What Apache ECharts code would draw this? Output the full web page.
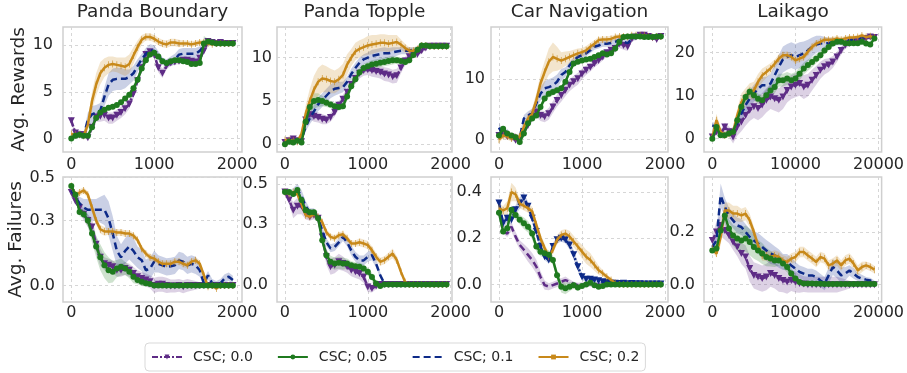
<!DOCTYPE html>
<html><head><meta charset="utf-8">
<script src="https://cdn.jsdelivr.net/npm/echarts@6/dist/echarts.min.js"></script>
<style>html,body{margin:0;padding:0;background:#fff}#c{width:907px;height:373px}</style>
</head><body><div id="c"></div>
<script>
// ---------- steps ----------
const stepsShort=[0,50,100,150,200,250,300,350,400,450,500,550,600,650,700,750,800,850,900,950,1000,1050,1100,1150,1200,1250,1300,1350,1400,1450,1500,1550,1600,1650,1700,1750,1800,1850,1900,1950];
const stepsLong=[0,500,1000,1500,2000,2500,3000,3500,4000,4500,5000,5500,6000,6500,7000,7500,8000,8500,9000,9500,10000,10500,11000,11500,12000,12500,13000,13500,14000,14500,15000,15500,16000,16500,17000,17500,18000,18500,19000,19500];
const panelTitles=['Panda Boundary','Panda Topple','Car Navigation','Laikago'];
const rowNames=['Avg. Rewards','Avg. Failures'];
const seriesNames=['CSC; 0.0','CSC; 0.05','CSC; 0.1','CSC; 0.2'];
const xTicksShort=[0,1000,2000];
const xTicksLong=[0,10000,20000];
const yTicksRewards=[[0,5,10],[0,5,10],[0,10],[0,10,20]];
const yTicksFailures=[[0,0.3,0.5],[0,0.3,0.5],[0,0.2,0.4],[0,0.2]];

// ---------- Panda Boundary, rewards ----------
const rewBoundary00=[1.9,0.6,0.4,0.4,0.1,1.2,2.3,2.4,2.5,2.2,2.2,2.5,2.8,3.2,3.7,4.8,6.2,7.6,9.0,9.3,9.0,7.6,7.0,7.8,8.1,8.2,8.3,8.4,8.4,8.3,8.2,8.6,9.4,10.4,10.3,10.2,10.3,10.2,10.2,10.2];
const rewBoundary00Sd=[0.3,0.3,0.3,0.3,0.3,0.4,0.5,0.6,0.6,0.6,0.6,0.6,0.6,0.6,0.5,0.5,0.4,0.3,0.3,0.3,0.4,0.5,0.5,0.4,0.3,0.3,0.3,0.3,0.3,0.3,0.3,0.3,0.3,0.3,0.2,0.2,0.2,0.2,0.2,0.2];
const rewBoundary05=[0.0,0.3,0.4,0.3,0.3,1.2,2.2,2.8,3.1,3.3,3.4,3.6,3.9,4.3,4.7,5.4,6.3,7.5,8.4,9.0,9.2,8.8,8.3,8.1,8.3,8.4,8.4,8.3,8.2,8.0,8.0,8.1,10.2,10.4,10.3,10.2,10.2,10.2,10.2,10.2];
const rewBoundary05Sd=[0.3,0.3,0.2,0.2,0.2,0.2,0.2,0.2,0.2,0.2,0.2,0.2,0.2,0.2,0.3,0.4,0.4,0.4,0.3,0.3,0.3,0.3,0.3,0.2,0.2,0.2,0.2,0.2,0.2,0.2,0.2,0.2,0.8,0.3,0.2,0.2,0.2,0.2,0.2,0.2];
const rewBoundary10=[0.1,0.3,0.5,0.3,2.0,2.6,2.8,3.0,4.5,5.8,6.3,6.4,6.4,6.4,6.6,7.0,7.8,8.5,9.1,9.5,9.4,8.9,8.3,8.1,8.3,8.5,9.0,9.1,9.1,9.1,9.1,9.4,9.9,10.4,10.2,10.2,10.3,10.2,10.2,10.2];
const rewBoundary10Sd=[0.3,0.3,0.4,0.4,0.8,0.9,0.8,0.8,1.0,1.2,1.2,1.2,1.2,1.0,0.8,0.8,0.7,0.6,0.6,0.6,0.6,0.5,0.4,0.4,0.5,0.6,0.6,0.6,0.6,0.6,0.6,0.5,0.4,0.3,0.2,0.2,0.3,0.2,0.2,0.2];
const rewBoundary20=[0.5,0.4,0.4,0.3,1.5,4.0,5.8,7.0,7.6,7.9,8.0,7.9,7.8,7.7,8.0,8.9,9.8,10.6,10.9,10.9,10.7,10.4,10.2,10.1,10.3,10.3,10.2,10.2,10.2,10.1,10.2,10.3,10.3,10.2,10.1,10.2,10.2,10.2,10.2,10.2];
const rewBoundary20Sd=[0.2,0.2,0.2,0.2,0.6,1.0,1.2,1.2,1.0,0.9,0.8,0.8,0.9,1.0,1.0,0.9,0.7,0.5,0.4,0.4,0.4,0.4,0.4,0.4,0.4,0.4,0.4,0.3,0.3,0.3,0.3,0.3,0.3,0.2,0.2,0.2,0.2,0.2,0.2,0.2];

// ---------- Panda Topple, rewards ----------
const rewTopple00=[0.2,0.4,0.6,0.4,0.3,2.8,3.4,3.2,3.1,2.9,2.8,3.1,3.7,4.5,5.2,6.0,6.9,7.6,8.2,8.5,8.6,8.5,8.4,8.3,8.1,8.0,7.8,7.9,8.8,9.6,10.1,10.3,10.4,10.8,11.1,11.3,11.3,11.3,11.3,11.3];
const rewTopple00Sd=[0.2,0.2,0.2,0.2,0.2,0.4,0.5,0.6,0.6,0.6,0.5,0.5,0.5,0.5,0.5,0.5,0.6,0.6,0.6,0.6,0.6,0.7,0.7,0.7,0.8,0.8,0.8,0.8,0.6,0.5,0.4,0.3,0.3,0.3,0.2,0.2,0.2,0.2,0.2,0.2];
const rewTopple05=[0.0,0.3,0.2,0.4,0.2,2.6,4.3,5.0,5.1,5.0,4.8,4.6,4.4,4.3,4.4,5.5,6.7,7.5,8.3,8.8,9.0,9.2,9.3,9.4,9.5,9.6,9.7,9.7,9.6,9.5,9.7,10.3,10.9,11.4,11.4,11.3,11.3,11.3,11.3,11.3];
const rewTopple05Sd=[0.2,0.2,0.2,0.2,0.2,0.5,0.8,0.9,0.8,0.6,0.5,0.4,0.4,0.4,0.4,0.5,0.5,0.5,0.5,0.5,0.5,0.5,0.5,0.5,0.5,0.5,0.5,0.4,0.4,0.4,0.4,0.3,0.3,0.2,0.2,0.2,0.2,0.2,0.2,0.2];
const rewTopple10=[0.2,0.5,0.6,0.5,0.6,2.0,3.0,3.8,4.6,5.1,5.6,6.1,6.4,6.5,6.6,7.2,8.1,8.8,9.4,9.8,10.0,10.2,10.3,10.4,10.5,10.5,10.6,10.7,10.8,10.8,10.8,10.9,11.0,11.2,11.3,11.3,11.3,11.3,11.3,11.3];
const rewTopple10Sd=[0.2,0.2,0.2,0.2,0.3,0.5,0.7,0.8,0.8,0.8,0.8,0.8,0.8,0.7,0.6,0.6,0.6,0.6,0.6,0.6,0.6,0.7,0.7,0.7,0.7,0.6,0.6,0.5,0.4,0.4,0.4,0.3,0.3,0.3,0.2,0.2,0.2,0.2,0.2,0.2];
const rewTopple20=[0.5,0.5,0.4,0.3,1.2,3.5,5.0,6.3,7.2,7.6,7.5,7.3,7.2,7.5,8.0,9.2,10.0,10.7,11.0,11.2,11.4,11.5,11.6,11.7,11.7,11.6,11.7,11.8,11.5,11.1,10.8,10.8,11.0,11.4,11.4,11.3,11.3,11.3,11.3,11.3];
const rewTopple20Sd=[0.2,0.2,0.2,0.2,0.5,1.0,1.4,1.6,1.6,1.6,1.5,1.4,1.3,1.3,1.3,1.2,1.0,1.0,1.0,1.0,1.1,1.1,1.0,1.0,1.0,1.0,0.9,0.8,0.6,0.5,0.4,0.4,0.3,0.3,0.2,0.2,0.2,0.2,0.2,0.2];

// ---------- Car Navigation, rewards ----------
const rewCar00=[0.7,1.0,0.5,0.4,-0.1,0.0,1.3,2.4,3.8,4.6,4.0,3.8,4.3,5.4,6.5,7.3,8.2,9.0,9.6,10.1,10.9,11.5,12.0,12.6,13.1,13.7,14.4,14.8,15.1,15.9,15.6,15.4,16.7,17.0,17.3,17.3,17.1,16.9,16.6,17.1];
const rewCar00Sd=[0.5,0.5,0.4,0.4,0.4,0.4,0.5,0.6,0.7,0.8,0.9,0.9,1.0,1.0,1.0,1.0,1.0,1.0,1.0,1.0,0.9,0.8,0.7,0.6,0.6,0.6,0.6,0.6,0.7,0.7,0.7,0.7,0.5,0.4,0.3,0.3,0.3,0.3,0.3,0.3];
const rewCar05=[0.7,1.8,1.0,0.7,0.4,-0.4,1.0,2.7,3.5,4.0,5.4,6.8,7.6,7.9,8.2,8.5,9.6,11.2,12.6,12.9,13.1,13.3,13.4,13.7,14.0,14.3,14.1,14.3,15.1,16.2,17.0,17.1,17.1,17.1,17.1,17.0,17.0,17.0,17.1,17.1];
const rewCar05Sd=[0.4,0.5,0.4,0.4,0.4,0.6,0.6,0.5,0.4,0.4,0.5,0.6,0.6,0.6,0.5,0.5,0.5,0.5,0.4,0.4,0.4,0.4,0.4,0.4,0.4,0.4,0.4,0.4,0.4,0.4,0.4,0.3,0.3,0.3,0.3,0.3,0.3,0.3,0.3,0.3];
const rewCar10=[2.0,0.7,1.3,0.4,0.6,0.3,3.5,4.0,4.3,6.0,7.6,8.5,8.7,9.0,9.6,10.7,11.2,12.3,13.1,13.7,14.0,14.3,14.8,15.4,15.6,15.9,15.9,16.0,16.2,16.6,16.2,16.0,16.7,17.0,17.1,17.1,17.1,17.1,17.1,17.1];
const rewCar10Sd=[0.8,0.5,0.5,0.4,0.4,0.4,0.6,0.7,0.8,1.0,1.1,1.2,1.3,1.3,1.2,1.0,0.8,0.6,0.5,0.5,0.5,0.5,0.5,0.5,0.5,0.5,0.5,0.5,0.5,0.5,0.5,0.5,0.4,0.4,0.3,0.3,0.3,0.3,0.3,0.3];
const rewCar20=[0.0,0.7,0.5,0.2,0.4,0.5,2.1,3.5,4.3,6.5,9.3,11.2,12.9,13.7,13.4,13.1,13.4,13.7,14.0,14.3,14.5,14.8,15.4,15.9,16.5,16.6,16.6,16.7,17.0,17.1,17.1,17.0,17.3,17.3,17.3,17.3,17.1,17.0,17.1,17.1];
const rewCar20Sd=[0.5,0.5,0.5,0.5,0.5,0.5,0.6,0.8,1.0,1.2,1.5,1.8,2.2,2.4,2.0,1.4,1.2,1.0,0.9,0.8,0.7,0.7,0.6,0.6,0.5,0.5,0.5,0.5,0.4,0.4,0.4,0.4,0.4,0.4,0.3,0.3,0.3,0.3,0.3,0.3];

// ---------- Laikago, rewards ----------
const rewLaikago00=[0.4,1.6,1.2,2.7,1.6,0.4,2.7,3.9,5.4,6.6,7.4,7.0,7.8,8.9,9.7,9.3,8.9,9.7,11.2,12.0,12.4,12.8,12.0,12.4,13.6,14.7,15.9,16.7,17.1,17.8,19.0,20.5,21.7,22.2,22.5,22.5,22.7,23.3,23.6,23.5];
const rewLaikago00Sd=[0.5,0.8,0.8,1.0,1.2,1.5,2.0,2.2,2.4,2.5,2.6,2.7,2.8,2.8,2.8,2.8,2.8,2.8,2.8,2.8,2.8,2.8,2.8,2.6,2.4,2.2,2.0,1.8,1.6,1.4,1.2,1.0,0.8,0.7,0.6,0.6,0.5,0.5,0.5,0.5];
const rewLaikago05=[0.0,2.7,0.8,0.8,1.2,1.6,4.3,7.4,9.7,10.9,10.1,9.3,8.9,10.1,11.2,12.0,13.6,13.6,14.0,13.6,14.0,15.1,16.3,17.1,17.8,18.6,19.4,20.5,21.3,22.1,22.5,22.5,22.2,22.2,22.2,22.2,22.5,22.1,21.9,23.3];
const rewLaikago05Sd=[0.5,0.8,0.6,0.6,0.6,0.8,1.0,1.2,1.2,1.2,1.2,1.2,1.2,1.3,1.5,1.5,1.5,1.5,1.5,1.5,1.5,1.5,1.4,1.3,1.2,1.1,1.0,0.9,0.8,0.7,0.6,0.6,0.6,0.6,0.5,0.5,0.5,0.5,0.5,0.5];
const rewLaikago10=[3.1,2.7,1.2,0.8,1.6,1.9,3.5,5.8,7.8,9.3,10.5,11.6,12.4,12.4,12.8,14.7,16.7,18.4,19.0,19.4,19.0,19.4,19.8,20.5,21.3,21.9,22.1,22.2,22.2,22.5,22.5,22.5,22.9,22.9,23.0,23.3,23.5,23.6,23.8,23.6];
const rewLaikago10Sd=[0.8,0.8,0.6,0.5,0.6,0.8,1.2,1.8,2.0,2.0,2.0,2.0,2.0,2.0,2.2,2.5,2.8,3.0,3.0,3.0,3.0,3.0,2.8,2.5,2.2,2.0,1.8,1.5,1.2,1.0,0.8,0.8,0.7,0.6,0.6,0.6,0.5,0.5,0.5,0.5];
const rewLaikago20=[0.3,4.3,1.6,0.8,1.2,1.6,5.4,8.5,9.7,10.9,11.2,13.2,14.7,15.5,16.3,17.4,18.6,19.4,19.4,19.0,18.2,18.6,19.0,20.2,21.3,22.1,22.5,23.0,23.0,23.0,23.3,23.0,23.3,23.5,23.5,23.6,24.0,23.6,23.8,23.5];
const rewLaikago20Sd=[0.5,1.5,1.0,0.8,0.8,1.0,1.5,2.0,2.0,2.0,2.0,1.8,1.6,1.4,1.2,1.0,1.0,0.8,0.8,0.8,0.8,0.8,0.8,0.8,0.8,0.7,0.7,0.6,0.6,0.6,0.6,0.6,0.6,0.5,0.5,0.5,0.5,0.5,0.5,0.5];

// ---------- Panda Boundary, failures ----------
const failBoundary00=[0.43,0.39,0.36,0.33,0.30,0.27,0.19,0.13,0.10,0.093,0.086,0.07,0.07,0.078,0.07,0.055,0.04,0.032,0.025,0.017,0.0,0.005,0.005,0.0,-0.003,-0.003,0.0,-0.006,0.0,0.0,0.0,0.0,0.0,0.0,0.0,0.0,0.0,0.0,0.0,0.0];
const failBoundary00Sd=[0.01,0.01,0.02,0.03,0.03,0.04,0.04,0.04,0.03,0.03,0.03,0.03,0.03,0.03,0.03,0.03,0.03,0.03,0.03,0.03,0.035,0.035,0.035,0.035,0.03,0.03,0.03,0.03,0.03,0.025,0.02,0.015,0.01,0.01,0.01,0.01,0.01,0.01,0.01,0.01];
const failBoundary05=[0.46,0.42,0.34,0.33,0.30,0.24,0.18,0.13,0.093,0.07,0.063,0.078,0.086,0.078,0.063,0.04,0.025,0.017,0.01,0.006,0.0,0.0,0.0,0.0,0.0,0.0,0.0,0.0,0.0,0.0,0.0,0.0,0.0,0.0,0.0,0.0,0.0,0.0,0.0,0.0];
const failBoundary05Sd=[0.01,0.02,0.02,0.02,0.03,0.04,0.05,0.06,0.06,0.06,0.05,0.04,0.04,0.03,0.03,0.03,0.02,0.02,0.015,0.01,0.01,0.01,0.01,0.01,0.01,0.01,0.01,0.01,0.01,0.01,0.01,0.01,0.01,0.01,0.01,0.01,0.01,0.01,0.01,0.01];
const failBoundary10=[0.44,0.41,0.38,0.36,0.35,0.35,0.35,0.35,0.35,0.31,0.24,0.16,0.13,0.16,0.18,0.16,0.13,0.116,0.07,0.078,0.11,0.10,0.093,0.086,0.088,0.093,0.116,0.11,0.093,0.10,0.093,0.07,0.01,0.047,0.01,0.0,0.01,0.032,0.04,0.025];
const failBoundary10Sd=[0.01,0.02,0.03,0.04,0.05,0.05,0.05,0.06,0.07,0.08,0.08,0.07,0.06,0.06,0.06,0.06,0.05,0.05,0.05,0.05,0.05,0.04,0.04,0.04,0.04,0.04,0.04,0.04,0.04,0.04,0.04,0.03,0.02,0.02,0.02,0.02,0.02,0.02,0.02,0.02];
const failBoundary20=[0.46,0.42,0.43,0.44,0.42,0.36,0.30,0.26,0.25,0.25,0.25,0.245,0.245,0.24,0.24,0.23,0.21,0.17,0.147,0.13,0.124,0.11,0.10,0.10,0.10,0.11,0.11,0.10,0.093,0.11,0.116,0.10,0.047,-0.006,0.0,-0.014,0.0,0.0,0.0,0.0];
const failBoundary20Sd=[0.01,0.015,0.015,0.015,0.015,0.02,0.02,0.02,0.02,0.015,0.015,0.015,0.015,0.015,0.015,0.015,0.015,0.015,0.015,0.015,0.015,0.015,0.015,0.015,0.015,0.015,0.015,0.015,0.015,0.015,0.015,0.015,0.015,0.01,0.01,0.01,0.01,0.01,0.01,0.01];

// ---------- Panda Topple, failures ----------
const failTopple00=[0.46,0.42,0.37,0.39,0.39,0.353,0.337,0.345,0.33,0.237,0.138,0.088,0.096,0.113,0.104,0.088,0.071,0.063,0.055,0.038,-0.012,-0.02,-0.008,0.0,0.0,0.0,0.0,0.0,0.0,0.0,0.0,0.0,0.0,0.0,0.0,0.0,0.0,0.0,0.0,0.0];
const failTopple00Sd=[0.01,0.02,0.04,0.04,0.04,0.03,0.02,0.02,0.02,0.03,0.04,0.04,0.04,0.04,0.035,0.03,0.03,0.03,0.03,0.03,0.025,0.02,0.015,0.01,0.01,0.01,0.01,0.01,0.01,0.01,0.01,0.01,0.01,0.01,0.01,0.01,0.01,0.01,0.01,0.01];
const failTopple05=[0.46,0.46,0.45,0.47,0.42,0.37,0.36,0.36,0.33,0.22,0.146,0.113,0.104,0.108,0.104,0.104,0.096,0.091,0.088,0.08,0.063,0.038,0.005,-0.008,0.0,0.0,0.0,0.0,0.0,0.0,0.0,0.0,0.0,0.0,0.0,0.0,0.0,0.0,0.0,0.0];
const failTopple05Sd=[0.01,0.01,0.01,0.015,0.015,0.015,0.015,0.015,0.02,0.025,0.03,0.03,0.03,0.03,0.03,0.025,0.02,0.02,0.02,0.02,0.02,0.02,0.015,0.01,0.01,0.01,0.01,0.01,0.01,0.01,0.01,0.01,0.01,0.01,0.01,0.01,0.01,0.01,0.01,0.01];
const failTopple10=[0.46,0.45,0.46,0.47,0.44,0.39,0.36,0.36,0.33,0.27,0.21,0.18,0.187,0.21,0.237,0.21,0.17,0.138,0.12,0.12,0.138,0.146,0.104,0.046,0.005,0.0,0.0,0.0,0.0,0.0,0.0,0.0,0.0,0.0,0.0,0.0,0.0,0.0,0.0,0.0];
const failTopple10Sd=[0.01,0.015,0.02,0.03,0.03,0.025,0.02,0.02,0.02,0.02,0.02,0.02,0.02,0.02,0.02,0.02,0.025,0.025,0.025,0.025,0.025,0.025,0.02,0.015,0.01,0.01,0.01,0.01,0.01,0.01,0.01,0.01,0.01,0.01,0.01,0.01,0.01,0.01,0.01,0.01];
const failTopple20=[0.46,0.45,0.46,0.45,0.40,0.345,0.337,0.35,0.337,0.31,0.26,0.237,0.23,0.245,0.25,0.23,0.204,0.204,0.21,0.204,0.196,0.17,0.138,0.113,0.121,0.138,0.154,0.121,0.063,0.013,0.0,0.0,0.0,0.0,0.0,0.0,0.0,0.0,0.0,0.0];
const failTopple20Sd=[0.01,0.01,0.01,0.01,0.015,0.015,0.015,0.015,0.015,0.015,0.015,0.015,0.015,0.015,0.015,0.015,0.015,0.015,0.02,0.02,0.02,0.02,0.02,0.02,0.02,0.02,0.025,0.02,0.015,0.01,0.01,0.01,0.01,0.01,0.01,0.01,0.01,0.01,0.01,0.01];

// ---------- Car Navigation, failures ----------
const failCar00=[0.323,0.229,0.22,0.25,0.207,0.171,0.15,0.128,0.106,0.077,0.033,-0.003,-0.01,-0.003,0.004,0.012,0.019,0.012,0.002,-0.003,0.0,0.0,0.0,0.0,0.0,0.0,0.0,0.0,0.0,0.0,0.0,0.0,0.0,0.0,0.0,0.0,0.0,0.0,0.0,0.0];
const failCar00Sd=[0.01,0.01,0.015,0.02,0.02,0.02,0.025,0.03,0.03,0.03,0.025,0.02,0.015,0.015,0.015,0.015,0.015,0.01,0.01,0.01,0.01,0.01,0.01,0.01,0.01,0.01,0.01,0.01,0.01,0.01,0.01,0.01,0.01,0.01,0.01,0.01,0.01,0.01,0.01,0.01];
const failCar05=[0.31,0.229,0.243,0.323,0.30,0.28,0.265,0.25,0.22,0.164,0.142,0.135,0.128,0.106,0.04,-0.01,-0.017,-0.01,-0.003,-0.013,-0.007,0.0,0.007,-0.003,-0.01,-0.007,0.0,0.0,0.0,0.0,0.0,0.0,0.0,0.0,0.0,0.0,0.0,0.0,0.0,0.0];
const failCar05Sd=[0.01,0.015,0.02,0.02,0.02,0.02,0.025,0.025,0.025,0.02,0.02,0.02,0.02,0.02,0.02,0.025,0.025,0.02,0.015,0.015,0.01,0.01,0.01,0.01,0.01,0.01,0.01,0.01,0.01,0.01,0.01,0.01,0.01,0.01,0.01,0.01,0.01,0.01,0.01,0.01];
const failCar10=[0.352,0.265,0.287,0.28,0.323,0.352,0.374,0.338,0.287,0.229,0.164,0.12,0.106,0.164,0.193,0.20,0.193,0.171,0.128,0.077,0.033,0.022,0.022,0.019,0.016,0.012,0.008,0.005,0.005,0.004,0.005,0.003,0.004,0.003,0.003,0.002,0.002,0.002,0.002,0.002];
const failCar10Sd=[0.02,0.02,0.02,0.02,0.02,0.025,0.025,0.02,0.02,0.02,0.02,0.015,0.015,0.015,0.015,0.015,0.015,0.02,0.02,0.02,0.015,0.01,0.01,0.01,0.01,0.01,0.01,0.01,0.01,0.01,0.01,0.01,0.01,0.01,0.01,0.01,0.01,0.01,0.01,0.01];
const failCar20=[0.33,0.32,0.33,0.40,0.39,0.35,0.34,0.33,0.316,0.258,0.20,0.157,0.12,0.15,0.193,0.214,0.22,0.207,0.186,0.164,0.142,0.12,0.106,0.084,0.062,0.048,0.033,0.019,0.007,0.0,0.0,0.0,0.0,0.0,0.0,0.0,0.0,0.0,0.0,0.0];
const failCar20Sd=[0.02,0.02,0.03,0.04,0.03,0.02,0.02,0.02,0.02,0.02,0.02,0.02,0.015,0.015,0.02,0.02,0.02,0.025,0.025,0.025,0.03,0.03,0.03,0.025,0.02,0.015,0.01,0.01,0.01,0.01,0.01,0.01,0.01,0.01,0.01,0.01,0.01,0.01,0.01,0.01];

// ---------- Laikago, failures ----------
const failLaikago00=[0.168,0.20,0.225,0.206,0.187,0.162,0.143,0.118,0.105,0.061,0.035,0.029,0.023,0.029,0.042,0.035,0.023,0.016,0.01,0.016,0.01,0.004,0.002,0.0,0.0,0.0,0.0,0.0,0.0,0.0,0.0,0.0,0.0,0.0,0.0,0.0,0.0,0.0,0.0,0.0];
const failLaikago00Sd=[0.02,0.04,0.04,0.035,0.03,0.03,0.035,0.04,0.045,0.05,0.05,0.05,0.05,0.05,0.05,0.05,0.05,0.045,0.045,0.04,0.04,0.035,0.03,0.03,0.03,0.03,0.03,0.03,0.03,0.03,0.03,0.025,0.02,0.015,0.01,0.01,0.01,0.01,0.01,0.01];
const failLaikago05=[0.13,0.137,0.206,0.263,0.213,0.187,0.175,0.168,0.175,0.162,0.143,0.13,0.118,0.105,0.099,0.092,0.092,0.08,0.067,0.042,0.023,0.01,0.004,0.004,0.004,0.003,0.003,0.002,0.002,0.002,0.002,0.002,0.002,0.002,0.002,0.002,0.002,0.002,0.002,0.002];
const failLaikago05Sd=[0.01,0.015,0.02,0.03,0.035,0.04,0.045,0.05,0.05,0.05,0.045,0.04,0.04,0.035,0.03,0.025,0.02,0.02,0.02,0.02,0.015,0.01,0.01,0.01,0.01,0.01,0.01,0.01,0.01,0.01,0.01,0.01,0.01,0.01,0.01,0.01,0.01,0.01,0.01,0.01];
const failLaikago10=[0.143,0.168,0.339,0.295,0.263,0.244,0.225,0.219,0.20,0.181,0.168,0.156,0.143,0.13,0.118,0.111,0.099,0.086,0.086,0.073,0.061,0.048,0.042,0.035,0.035,0.029,0.016,0.004,0.035,0.067,0.054,0.035,0.042,0.054,0.042,0.029,0.023,0.019,0.016,0.006];
const failLaikago10Sd=[0.01,0.03,0.045,0.035,0.03,0.03,0.03,0.03,0.03,0.03,0.035,0.04,0.04,0.04,0.04,0.035,0.035,0.03,0.03,0.03,0.025,0.025,0.025,0.025,0.025,0.025,0.025,0.025,0.03,0.03,0.03,0.03,0.025,0.02,0.02,0.015,0.015,0.01,0.01,0.01];
const failLaikago20=[0.137,0.118,0.18,0.282,0.282,0.27,0.27,0.263,0.27,0.244,0.20,0.149,0.111,0.111,0.105,0.111,0.105,0.092,0.086,0.099,0.105,0.124,0.124,0.111,0.099,0.086,0.105,0.099,0.073,0.08,0.092,0.073,0.092,0.099,0.08,0.054,0.067,0.073,0.067,0.057];
const failLaikago20Sd=[0.01,0.015,0.03,0.03,0.03,0.03,0.03,0.025,0.025,0.025,0.02,0.02,0.02,0.02,0.02,0.02,0.02,0.02,0.02,0.02,0.02,0.02,0.02,0.02,0.02,0.02,0.02,0.02,0.02,0.02,0.02,0.02,0.02,0.02,0.02,0.02,0.02,0.015,0.015,0.015];

// ---------- assembly ----------
const panelData=[
 [[rewBoundary00,rewBoundary00Sd],[rewBoundary05,rewBoundary05Sd],[rewBoundary10,rewBoundary10Sd],[rewBoundary20,rewBoundary20Sd]],
 [[rewTopple00,rewTopple00Sd],[rewTopple05,rewTopple05Sd],[rewTopple10,rewTopple10Sd],[rewTopple20,rewTopple20Sd]],
 [[rewCar00,rewCar00Sd],[rewCar05,rewCar05Sd],[rewCar10,rewCar10Sd],[rewCar20,rewCar20Sd]],
 [[rewLaikago00,rewLaikago00Sd],[rewLaikago05,rewLaikago05Sd],[rewLaikago10,rewLaikago10Sd],[rewLaikago20,rewLaikago20Sd]],
 [[failBoundary00,failBoundary00Sd],[failBoundary05,failBoundary05Sd],[failBoundary10,failBoundary10Sd],[failBoundary20,failBoundary20Sd]],
 [[failTopple00,failTopple00Sd],[failTopple05,failTopple05Sd],[failTopple10,failTopple10Sd],[failTopple20,failTopple20Sd]],
 [[failCar00,failCar00Sd],[failCar05,failCar05Sd],[failCar10,failCar10Sd],[failCar20,failCar20Sd]],
 [[failLaikago00,failLaikago00Sd],[failLaikago05,failLaikago05Sd],[failLaikago10,failLaikago10Sd],[failLaikago20,failLaikago20Sd]]
];

// layout / style (not data)
const FONT='DejaVu Sans';
const TXT='#262626';
const colLeft=[63,277,491,704], colWidth=[179,175,177,178];
const rowTop=[27,177], rowHeight=[125,125];
const xRange=[[-100,2060],[-96,2016],[-96,2036],[-1000,20370]];
const yRangeTop=[[-1.44,11.96],[-0.89,13.53],[-2.05,18.67],[-3.1,25.95]];
const yRangeBot=[[-0.077,0.502],[-0.087,0.535],[-0.076,0.465],[-0.066,0.409]];
const yLabMargin=[[10,5,6,9],[8,9,9,9]];
const colors=['#5e2c86','#1f7a1f','#0d2a88','#c8891a'];
const styles={
  tri:{symbol:'triangle',symbolRotate:180,symbolSize:7,lineType:[6,2,2,2]},
  dot:{symbol:'circle',symbolRotate:0,symbolSize:6,lineType:'solid'},
  dash:{symbol:'none',symbolRotate:0,symbolSize:0,lineType:[7,4]},
  tick:{symbol:'path://M0,0L1,0L1,5L0,5Z',symbolRotate:0,symbolSize:[3,7],lineType:'solid'}
};
const styleOrder=['tri','dot','dash','tick'];
const styleOrderCar=['dash','dot','tri','tick']; // car navigation failures panel
const zOrder=[3,6,4,5];

function bandRenderer(steps,lower,upper,color){
  return function(params,api){
    if(params.dataIndex!==0) return null;
    const pts=[];
    for(let i=0;i<steps.length;i++) pts.push(api.coord([steps[i],upper[i]]));
    for(let i=steps.length-1;i>=0;i--) pts.push(api.coord([steps[i],lower[i]]));
    return {type:'polygon',shape:{points:pts},style:{fill:color,opacity:0.22}};
  };
}

const grids=[],xAxes=[],yAxes=[],series=[],titles=[];
for(let p=0;p<8;p++){
  const r=Math.floor(p/4), c=p%4;
  grids.push({left:colLeft[c],top:rowTop[r],width:colWidth[c],height:rowHeight[r],show:true,
    borderColor:'#cfcfcf',borderWidth:1.5,backgroundColor:'#fff',containLabel:false});
  const xt=c===3?xTicksLong:xTicksShort;
  xAxes.push({type:'value',gridIndex:p,min:xRange[c][0],max:xRange[c][1],
    axisLine:{show:false},axisTick:{show:false,customValues:xt},
    axisLabel:{customValues:xt,color:TXT,fontSize:16,fontFamily:FONT,margin:r===0?5:3,formatter:v=>String(v)},
    splitLine:{show:true,lineStyle:{color:'#d6d6d6',type:[3,3],width:1}}});
  const yt=r===0?yTicksRewards[c]:yTicksFailures[c];
  const yr=r===0?yRangeTop[c]:yRangeBot[c];
  const ya={type:'value',gridIndex:p,min:yr[0],max:yr[1],
    axisLine:{show:false},axisTick:{show:false,customValues:yt},
    axisLabel:{customValues:yt,color:TXT,fontSize:16,fontFamily:FONT,margin:yLabMargin[r][c],
      formatter:r===0?(v=>String(Math.round(v))):(v=>v.toFixed(1))},
    splitLine:{show:true,lineStyle:{color:'#d6d6d6',type:[3,3],width:1}}};
  if(c===0){Object.assign(ya,{name:rowNames[r],nameLocation:'middle',nameGap:r===0?33:37,
    nameTextStyle:{fontSize:18.5,color:TXT,fontFamily:FONT}});}
  yAxes.push(ya);
  const steps=c===3?stepsLong:stepsShort;
  const so=p===6?styleOrderCar:styleOrder;
  for(let k=0;k<4;k++){
    const mean=panelData[p][k][0], sd=panelData[p][k][1];
    const lower=mean.map((m,i)=>m-sd[i]);
    const upper=mean.map((m,i)=>m+sd[i]);
    series.push({type:'custom',name:'band',xAxisIndex:p,yAxisIndex:p,
      data:steps.map((x,i)=>[x,lower[i],upper[i]]),encode:{x:0,y:[1,2]},
      renderItem:bandRenderer(steps,lower,upper,colors[k]),clip:true,silent:true,z:2,animation:false});
  }
  for(let k=0;k<4;k++){
    const mean=panelData[p][k][0];
    const st=styles[so[k]];
    series.push({type:'line',name:seriesNames[k],xAxisIndex:p,yAxisIndex:p,
      data:steps.map((x,i)=>[x,mean[i]]),
      symbol:st.symbol,symbolRotate:st.symbolRotate,symbolSize:st.symbolSize,symbolKeepAspect:true,
      showSymbol:st.symbol!=='none',
      itemStyle:{color:colors[k]},lineStyle:{color:colors[k],width:2.5,type:st.lineType},
      z:zOrder[k],animation:false,silent:true});
  }
}
for(let c=0;c<4;c++){
  titles.push({text:panelTitles[c],left:colLeft[c]+colWidth[c]/2,top:3,textAlign:'center',padding:0,
    textStyle:{fontSize:18.5,fontWeight:'normal',color:TXT,fontFamily:FONT}});
}
const chart=echarts.init(document.getElementById('c'),null,{renderer:'canvas'});
chart.setOption({
  animation:false,
  backgroundColor:'#fff',
  title:titles,
  grid:grids,xAxis:xAxes,yAxis:yAxes,series:series,
  legend:{data:[{name:seriesNames[0]},{name:seriesNames[1]},{name:seriesNames[2],itemStyle:{opacity:0}},{name:seriesNames[3]}],
    left:145,top:343,itemWidth:30,itemHeight:6,itemGap:24,
    padding:[7,6],borderColor:'#d9d9d9',borderWidth:1,borderRadius:4,
    formatter:name=>'{g|}'+name,
    textStyle:{fontSize:14,color:TXT,fontFamily:FONT,rich:{g:{width:6}}}}
});
</script></body></html>
